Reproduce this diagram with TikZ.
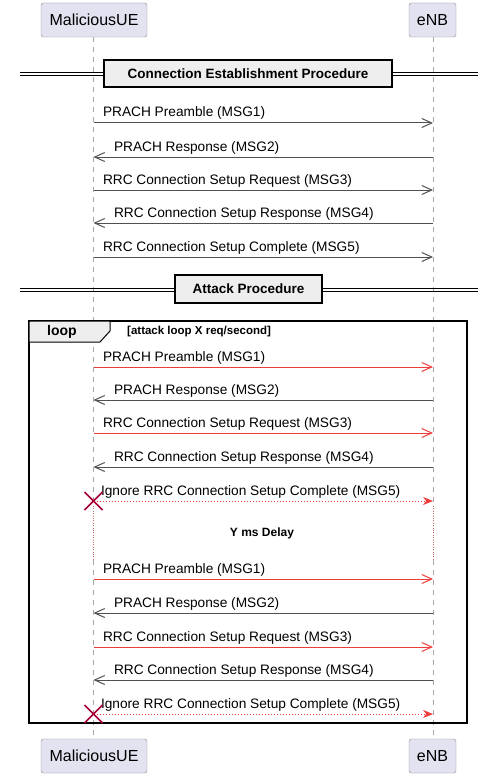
\documentclass[tikz,border=0pt]{standalone}
\usepackage{fontspec}
\setmainfont{Liberation Sans}
\usetikzlibrary{arrows.meta}

\definecolor{partyfill}{RGB}{226,226,240}
\definecolor{partyline}{RGB}{140,140,150}
\definecolor{lifegray}{RGB}{165,165,165}
\definecolor{reqred}{RGB}{238,60,60}
\definecolor{respgray}{RGB}{80,80,80}
\definecolor{crossred}{RGB}{168,0,54}
\definecolor{boxgray}{RGB}{238,238,238}

\tikzset{
  party/.style={draw=partyline, fill=partyfill, rounded corners=2.5pt, minimum height=34pt, inner sep=0pt, font=\fontsize{16}{19}\selectfont},
  lifeline/.style={draw=lifegray, dash pattern=on 5pt off 5pt},
  delayline/.style={draw=reqred!60!lifegray, dotted},
  divider/.style={draw=black, line width=1.6pt, fill=boxgray, minimum height=27pt, inner sep=0pt, font=\bfseries\fontsize{13.5}{16}\selectfont},
  send/.style={draw=respgray, line width=1pt, -{Straight Barb[length=10pt,width=9pt]}},
  req/.style={draw=reqred, line width=1pt, -{Straight Barb[length=10pt,width=9pt]}},
  resp/.style={draw=respgray, line width=1pt, -{Straight Barb[length=10pt,width=9pt]}},
  ignore/.style={draw=reqred, dotted, line width=1pt, -{Stealth[length=10pt,width=8pt]}},
  reqtext/.style={pos=0, anchor=base west, xshift=9pt, yshift=6pt, inner sep=0pt, font=\fontsize{13.7}{16}\selectfont},
  resptext/.style={pos=1, anchor=base west, xshift=20pt, yshift=6pt, inner sep=0pt, font=\fontsize{13.7}{16}\selectfont},
  igntext/.style={pos=0, anchor=base west, xshift=7pt, yshift=6pt, inner sep=0pt, font=\fontsize{13.7}{16}\selectfont},
}

\begin{document}
\begin{tikzpicture}[x=1pt,y=-1pt]
\useasboundingbox (0,0) rectangle (501,781);

% participants
\node[party, minimum width=106pt] (ueTop) at (94,20) {MaliciousUE};
\node[party, minimum width=47pt] (enbTop) at (432.5,20) {eNB};
\node[party, minimum width=106pt] (ueBot) at (94,756) {MaliciousUE};
\node[party, minimum width=47pt] (enbBot) at (432.5,756) {eNB};

% message rows on both lifelines
\foreach \n/\y in {1/123,2/157,3/190,4/223,5/257,6/367,7/400,8/433,9/467,10/501,11/579,12/613,13/647,14/680,15/714}{
  \coordinate (u\n) at (93.5,\y);
  \coordinate (e\n) at (433,\y);
}
\coordinate (uDelayA) at (93.5,506);
\coordinate (uDelayB) at (93.5,560);
\coordinate (eDelayA) at (433,506);
\coordinate (eDelayB) at (433,560);

% lifelines
\draw[lifeline] (ueTop.south -| u1) -- (uDelayA);
\draw[delayline] (uDelayA) -- (uDelayB);
\draw[lifeline] (uDelayB) -- (ueBot.north -| u1);
\draw[lifeline] (enbTop.south -| e1) -- (eDelayA);
\draw[delayline] (eDelayA) -- (eDelayB);
\draw[lifeline] (eDelayB) -- (enbBot.north -| e1);

% first divider
\coordinate (divAl) at (20,74);
\coordinate (divAr) at (478,74);
\draw ([yshift=1.5pt]divAl) -- ([yshift=1.5pt]divAr);
\draw ([yshift=-1.5pt]divAl) -- ([yshift=-1.5pt]divAr);
\node[divider, minimum width=288pt] (connDiv) at (248,73.5) {Connection Establishment Procedure};

% connection establishment
\draw[send] (u1) -- node[reqtext]{PRACH Preamble (MSG1)} (e1);
\draw[resp] (e2) -- node[resptext]{PRACH Response (MSG2)} (u2);
\draw[send] (u3) -- node[reqtext]{RRC Connection Setup Request (MSG3)} (e3);
\draw[resp] (e4) -- node[resptext]{RRC Connection Setup Response (MSG4)} (u4);
\draw[send] (u5) -- node[reqtext]{RRC Connection Setup Complete (MSG5)} (e5);

% second divider
\coordinate (divBl) at (20,290);
\coordinate (divBr) at (478,290);
\draw ([yshift=1.5pt]divBl) -- ([yshift=1.5pt]divBr);
\draw ([yshift=-1.5pt]divBl) -- ([yshift=-1.5pt]divBr);
\node[divider, minimum width=147pt, minimum height=28pt] (attackDiv) at (248.5,289) {Attack Procedure};

% loop frame
\draw[line width=1.6pt] (29,321) rectangle (467,723);
\draw[fill=boxgray, line width=1pt] (29,321) -- (110,321) -- (110,331) -- (100,342) -- (29,342) -- cycle;
\node[font=\bfseries\fontsize{14}{16}\selectfont, inner sep=0pt] (loopTag) at (62,332) {loop};
\node[anchor=west, font=\bfseries\fontsize{11.5}{14}\selectfont, inner sep=0pt] (loopCond) at (127,332) {[attack loop X req/second]};

% attack round 1
\draw[req] (u6) -- node[reqtext]{PRACH Preamble (MSG1)} (e6);
\draw[resp] (e7) -- node[resptext]{PRACH Response (MSG2)} (u7);
\draw[req] (u8) -- node[reqtext]{RRC Connection Setup Request (MSG3)} (e8);
\draw[resp] (e9) -- node[resptext]{RRC Connection Setup Response (MSG4)} (u9);
\draw[ignore] (u10) -- node[igntext]{Ignore RRC Connection Setup Complete (MSG5)} (e10);
\draw[crossred, line width=1.6pt] ([shift={(-9pt,-9pt)}]u10) -- ([shift={(9pt,9pt)}]u10)
  ([shift={(-9pt,9pt)}]u10) -- ([shift={(9pt,-9pt)}]u10);

\node[font=\bfseries\fontsize{12}{14}\selectfont, inner sep=0pt] (delay) at (262,533) {Y ms Delay};

% attack round 2
\draw[req] (u11) -- node[reqtext]{PRACH Preamble (MSG1)} (e11);
\draw[resp] (e12) -- node[resptext]{PRACH Response (MSG2)} (u12);
\draw[req] (u13) -- node[reqtext]{RRC Connection Setup Request (MSG3)} (e13);
\draw[resp] (e14) -- node[resptext]{RRC Connection Setup Response (MSG4)} (u14);
\draw[ignore] (u15) -- node[igntext]{Ignore RRC Connection Setup Complete (MSG5)} (e15);
\draw[crossred, line width=1.6pt] ([shift={(-9pt,-9pt)}]u15) -- ([shift={(9pt,9pt)}]u15)
  ([shift={(-9pt,9pt)}]u15) -- ([shift={(9pt,-9pt)}]u15);
\end{tikzpicture}
\end{document}
